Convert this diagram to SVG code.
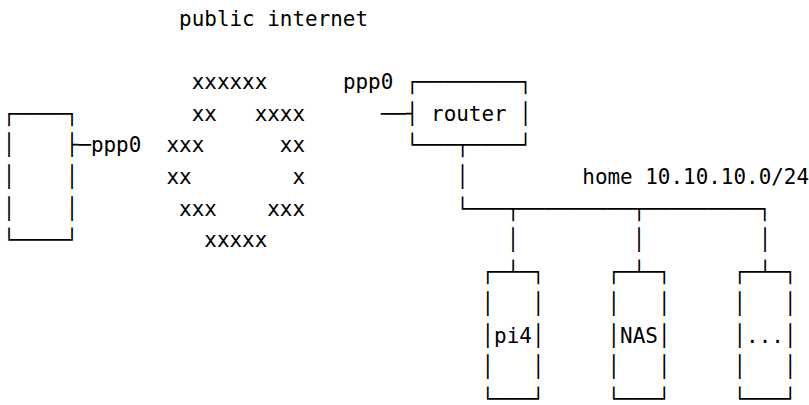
<svg xmlns="http://www.w3.org/2000/svg" width="809" height="405" viewBox="0 0 809 405" xml:space="preserve">
<style>
text{font-family:"DejaVu Sans Mono","Liberation Mono",monospace;font-size:20.93px;fill:#000;white-space:pre}
</style>
<rect width="809" height="405" fill="#fff"/>
<g id="host">
<text x="2.7" y="120.6">┌────┐</text>
<text x="2.7" y="152.3">│    ├</text>
<text x="2.7" y="184">│    │</text>
<text x="2.7" y="215.7">│    │</text>
<text x="2.7" y="247.4">└────┘</text>
</g>
<g id="internet">
<text x="179.1" y="25.5">public internet</text>
<text x="191.7" y="88.9">xxxxxx</text>
<text x="191.7" y="120.6">xx   xxxx</text>
<text x="166.5" y="152.3">xxx      xx</text>
<text x="166.5" y="184">xx        x</text>
<text x="179.1" y="215.7">xxx    xxx</text>
<text x="204.3" y="247.4">xxxxx</text>
</g>
<g id="router">
<text x="405.9" y="88.9">┌────────┐</text>
<text x="405.9" y="120.6">┤ router │</text>
<text x="405.9" y="152.3">└───┬────┘</text>
</g>
<g id="pi4">
<text x="481.5" y="279.1">┌─┴─┐</text>
<text x="481.5" y="310.8">│   │</text>
<text x="481.5" y="342.5">│pi4│</text>
<text x="481.5" y="374.2">│   │</text>
<text x="481.5" y="405.9">└───┘</text>
</g>
<g id="nas">
<text x="607.5" y="279.1">┌─┴─┐</text>
<text x="607.5" y="310.8">│   │</text>
<text x="607.5" y="342.5">│NAS│</text>
<text x="607.5" y="374.2">│   │</text>
<text x="607.5" y="405.9">└───┘</text>
</g>
<g id="more">
<text x="733.5" y="279.1">┌─┴─┐</text>
<text x="733.5" y="310.8">│   │</text>
<text x="733.5" y="342.5">│...│</text>
<text x="733.5" y="374.2">│   │</text>
<text x="733.5" y="405.9">└───┘</text>
</g>
<g id="connectors">
<text x="78.3" y="152.3">─ppp0</text>
<text x="342.9" y="88.9">ppp0</text>
<text x="380.7" y="120.6">──</text>
<text x="456.3" y="184">│</text>
<text x="582.3" y="184">home 10.10.10.0/24</text>
<text x="456.3" y="215.7">└───┬─────────┬─────────┐</text>
<text x="506.7" y="247.4">│</text>
<text x="632.7" y="247.4">│</text>
<text x="758.7" y="247.4">│</text>
</g>
</svg>
